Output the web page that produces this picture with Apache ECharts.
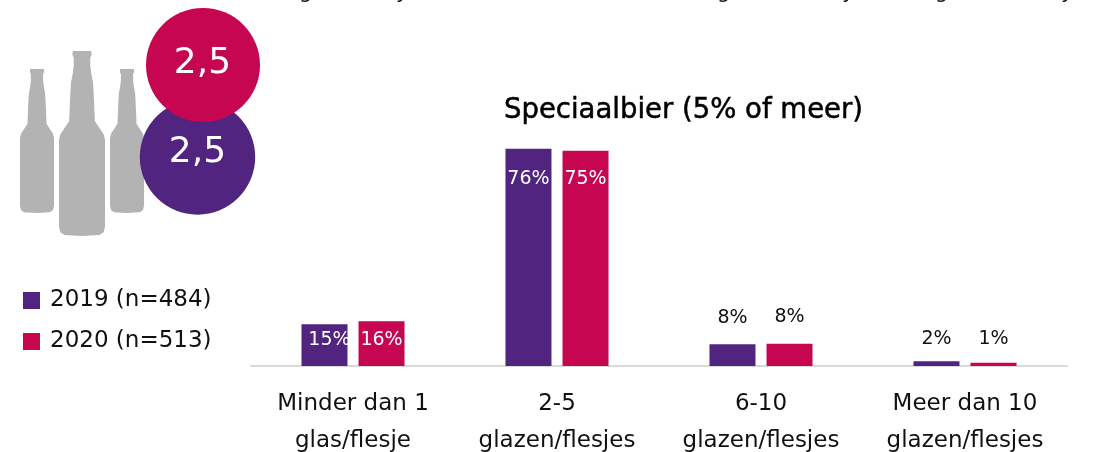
<!DOCTYPE html>
<html>
<head>
<meta charset="utf-8">
<style>html,body{margin:0;padding:0;background:#fff}#c{width:1101px;height:452px}</style>
<script src="https://cdn.jsdelivr.net/npm/echarts@6/dist/echarts.min.js"></script>
</head>
<body>
<div id="c"></div>
<script>
const categories = ['Minder dan 1\nglas/flesje', '2-5\nglazen/flesjes', '6-10\nglazen/flesjes', 'Meer dan 10\nglazen/flesjes'];
const series2019 = [14.6, 76, 7.6, 1.7];
const series2020 = [15.7, 75.3, 7.8, 1.1];
const name2019 = '2019 (n=484)';
const name2020 = '2020 (n=513)';
const titleText = 'Speciaalbier (5% of meer)';
const badge2019 = '2,5';
const badge2020 = '2,5';
const PURPLE = '#51247f', RED = '#c60651', GREY = '#b3b3b3';
const FONT = '"DejaVu Sans", sans-serif';

const bottleRight = [[50,0],[70,0],[71,2],[68,3.5],[68,8],[70,12],[74,17],[76,26],[78,38],[97,45],[100,48],[100,95],[97,98],[88,99.5],[50,100]];
const bottleOutline = bottleRight.concat(bottleRight.slice(1, -1).reverse().map(([a, b]) => [100 - a, b]));
function bottle(x, y, w, h) {
  return bottleOutline.map(([a, b]) => [x + a * w / 100, y + b * h / 100]);
}

function makeSeries(name, values, color, insideOffsets, distances) {
  return {
    name, type: 'bar', barWidth: 46, barGap: '24%',
    data: values.map((v, i) => ({
      value: v,
      label: v >= 10
        ? { position: 'insideTop', distance: distances[i], color: '#fff', offset: insideOffsets[i] || [0, 0] }
        : { position: 'top', distance: distances[i], color: '#111' }
    })),
    itemStyle: { color },
    label: { show: true, fontFamily: FONT, fontSize: 19, formatter: p => Math.round(p.value) + '%' }
  };
}

const clippedTop = [['g', 299], [',', 349], ['y', 396], ['g', 717], [',', 794], ['y', 842], ['g', 935], [',', 1013], ['y', 1061]];

const chart = echarts.init(document.getElementById('c'), null, { renderer: 'canvas' });
chart.setOption({
  animation: false,
  title: { text: titleText, left: 499, top: 92, textStyle: { fontFamily: FONT, fontSize: 27.5, fontWeight: 'normal', color: '#000', textBorderColor: '#000', textBorderWidth: 0.5 } },
  legend: {
    orient: 'vertical', left: 18, top: 284, itemWidth: 17, itemHeight: 17, itemGap: 18, icon: 'rect',
    selectedMode: false,
    textStyle: { fontFamily: FONT, fontSize: 23, color: '#111', padding: [0, 0, 0, 5] },
    data: [name2019, name2020]
  },
  grid: { left: 251, right: 34, top: 66, bottom: 86, outerBoundsMode: 'none' },
  xAxis: {
    type: 'category', data: categories,
    axisTick: { show: false },
    axisLine: { lineStyle: { color: '#d9d9d9', width: 2 } },
    axisLabel: { fontFamily: FONT, fontSize: 23, color: '#111', lineHeight: 37, margin: 20, interval: 0 }
  },
  yAxis: { type: 'value', min: 0, max: 105, show: false, splitLine: { show: false } },
  series: [
    makeSeries(name2019, series2019, PURPLE, [[5, 0]], [6, 21, 17, 13]),
    makeSeries(name2020, series2020, RED, [], [9, 19, 17, 14.5])
  ],
  graphic: [
    { type: 'polygon', shape: { points: bottle(20, 69, 34, 144) }, style: { fill: GREY } },
    { type: 'polygon', shape: { points: bottle(110, 69, 34, 144) }, style: { fill: GREY } },
    { type: 'polygon', shape: { points: bottle(59, 51, 46, 185) }, style: { fill: GREY } },
    { type: 'circle', shape: { cx: 197.5, cy: 157, r: 57.7 }, style: { fill: PURPLE } },
    { type: 'circle', shape: { cx: 203, cy: 65, r: 57 }, style: { fill: RED } },
    { type: 'text', style: { text: badge2019, x: 197.5, y: 153, align: 'center', verticalAlign: 'middle', fill: '#fff', font: '36px ' + FONT } },
    { type: 'text', style: { text: badge2020, x: 202.5, y: 63.5, align: 'center', verticalAlign: 'middle', fill: '#fff', font: '36px ' + FONT } },
    ...clippedTop.map(([t, x]) => ({ type: 'text', style: { text: t, x, y: 3, align: 'left', verticalAlign: 'bottom', fill: '#111', font: '21px ' + FONT } }))
  ]
});
</script>
</body>
</html>
